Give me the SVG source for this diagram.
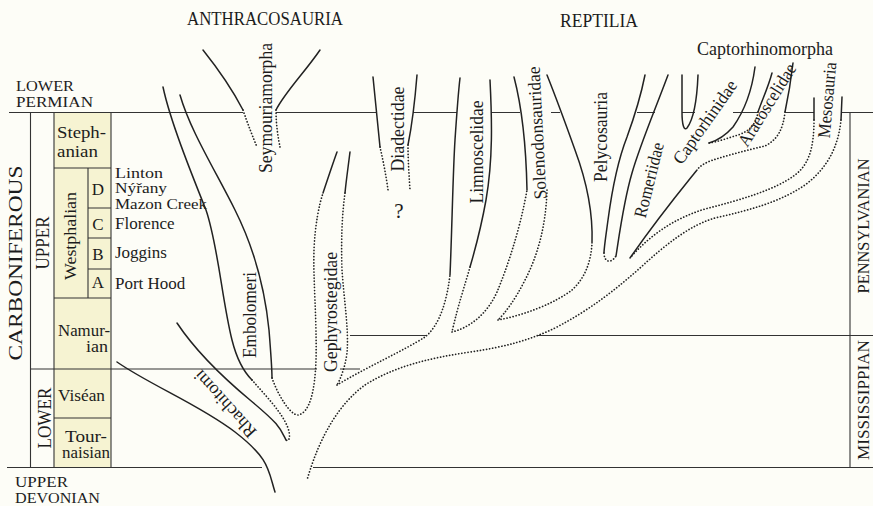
<svg xmlns="http://www.w3.org/2000/svg" width="873" height="506" viewBox="0 0 873 506">
<defs>
<style>
text{font-family:"Liberation Serif","Times New Roman",serif;font-size:17px;fill:#1c1c1c}
.v{text-anchor:middle;dominant-baseline:central}
.cap{font-size:18px}
.sm{font-size:16px}
.xs{font-size:15px}
.s{fill:none;stroke:#222;stroke-width:1.5;stroke-linecap:round}
.d{fill:none;stroke:#222;stroke-width:1.7;stroke-dasharray:0.1 3;stroke-linecap:round}
.g{stroke:#333;stroke-width:1.1;fill:none}
.cell{fill:#f6f3d2}
</style>
</defs>
<rect x="0" y="0" width="873" height="506" fill="#fdfdf7"/>

<g id="timescale">
<rect class="cell" x="54" y="112.5" width="57" height="355"/>
<g class="g">
<path d="M9,112.5H243 M276,112.5H376 M413,112.5H457 M491,112.5H520 M551,112.5H560 M637,112.5H655 M682,112.5H695 M733,112.5H758 M785,112.5H814 M842,112.5H873"/>
<path d="M7,467.5H262 M313,467.5H873"/>
<path d="M30.5,369H317 M340,369H360"/>
<path d="M350,335.5H427 M538,335.5H873"/>
<path d="M30.5,112.5V467.5 M54,112.5V467.5 M111,112.5V467.5 M88,168V298 M850,112.5V467.5"/>
<path d="M54,168H111 M88,208H111 M88,238H111 M88,269H111 M54,298H111 M54,418H111"/>
</g>
<text class="xs" x="16" y="91" textLength="58" lengthAdjust="spacingAndGlyphs">LOWER</text>
<text class="xs" x="16" y="107" textLength="77" lengthAdjust="spacingAndGlyphs">PERMIAN</text>
<text class="xs" x="15" y="487" textLength="53" lengthAdjust="spacingAndGlyphs">UPPER</text>
<text class="xs" x="15" y="503" textLength="85" lengthAdjust="spacingAndGlyphs">DEVONIAN</text>
<text class="v" transform="translate(15.5,263) rotate(-90)" style="font-size:19px" textLength="195" lengthAdjust="spacingAndGlyphs">CARBONIFEROUS</text>
<text class="v cap" transform="translate(43,243) rotate(-90)" textLength="53" lengthAdjust="spacingAndGlyphs">UPPER</text>
<text class="v cap" transform="translate(45,418) rotate(-90)" textLength="61" lengthAdjust="spacingAndGlyphs">LOWER</text>
<text class="v" transform="translate(70,236) rotate(-90)" textLength="88" lengthAdjust="spacingAndGlyphs">Westphalian</text>
<text class="sm" x="57" y="138" textLength="49" lengthAdjust="spacingAndGlyphs">Steph-</text>
<text class="sm" x="57" y="157" textLength="41" lengthAdjust="spacingAndGlyphs">anian</text>
<text x="98" y="195" text-anchor="middle">D</text>
<text x="98" y="230" text-anchor="middle">C</text>
<text x="98" y="260" text-anchor="middle">B</text>
<text x="98" y="288" text-anchor="middle">A</text>
<text class="sm" x="58" y="336" textLength="52" lengthAdjust="spacingAndGlyphs">Namur-</text>
<text class="sm" x="86" y="352" textLength="22" lengthAdjust="spacingAndGlyphs">ian</text>
<text x="58" y="401" textLength="47" lengthAdjust="spacingAndGlyphs">Viséan</text>
<text class="sm" x="65" y="442" textLength="42" lengthAdjust="spacingAndGlyphs">Tour-</text>
<text class="sm" x="62" y="458" textLength="48" lengthAdjust="spacingAndGlyphs">naisian</text>
<text class="xs" x="115" y="178" textLength="48" lengthAdjust="spacingAndGlyphs">Linton</text>
<text class="xs" x="115" y="193" textLength="52" lengthAdjust="spacingAndGlyphs">Nýřany</text>
<text class="xs" x="115" y="209" textLength="92" lengthAdjust="spacingAndGlyphs">Mazon Creek</text>
<text x="115" y="229">Florence</text>
<text x="115" y="258">Joggins</text>
<text x="115" y="289">Port Hood</text>
<text class="v" transform="translate(863,226) rotate(-90)" textLength="135" lengthAdjust="spacingAndGlyphs">PENNSYLVANIAN</text>
<text class="v" transform="translate(863,400) rotate(-90)" textLength="120" lengthAdjust="spacingAndGlyphs">MISSISSIPPIAN</text>
</g>

<g id="connectors">
<path class="s" d="M117,362 C150,385 200,405 235,432 S268,470 275,492"/>
<path class="s" d="M177,323 C195,350 220,375 250,400 S280,428 286,440"/>
<path class="d" d="M252,380 C265,395 282,412 288,428 C291,437 289,442 286,440"/>
<path class="s" d="M163,87 C170,120 190,170 206,210 C218,245 222,300 232,340 C237,360 244,372 252,380"/>
<path class="s" d="M180,95 C190,130 215,170 235,210 C255,250 265,290 269,330 C271,355 272,370 272,378"/>
<path class="d" d="M272,378 C278,395 290,415 298,415 C310,413 315,390 316,360 C317,320 313,280 314,250 C315,225 319,205 323,193"/>
<path class="s" d="M323,193 C328,178 333,163 337,152"/>
<path class="s" d="M350,152 C348,168 346,182 345,193"/>
<path class="d" d="M345,193 C342,215 341,240 342,270 C344,300 349,330 347,353 C345,368 340,380 337,385"/>
<path class="d" d="M337,385 C365,368 405,350 425,337 C440,325 447,300 450,275"/>
<path class="s" d="M450,275 C452,230 453,170 455,140 S458,95 460,78"/>
<path class="s" d="M490,80 C492,120 493,160 486,200 C481,228 475,250 470,267"/>
<path class="d" d="M470,267 C465,285 458,305 452,332"/>
<path class="d" d="M452,332 C472,327 488,312 497,292 C507,268 520,230 527,190"/>
<path class="s" d="M514,77 C520,100 526,140 527,190"/>
<path class="d" d="M547,190 C546,225 538,255 525,280 C515,300 505,313 498,320"/>
<path class="d" d="M498,320 C525,315 555,303 572,290 C585,278 591,262 592,243"/>
<path class="s" d="M592,243 C593,215 588,185 575,150 C565,122 555,95 547,75"/>
<path class="s" d="M645,75 C641,95 635,115 627,137 C618,160 612,190 608,220 C606,235 604,248 604,253"/>
<path class="d" d="M604,253 C604,261 610,265 616,256"/>
<path class="s" d="M616,256 C620,230 624,200 632,173 C640,145 655,110 668,75"/>
<path class="s" d="M682,75 L682,112 C682,125 684,131 687,128 C693,120 697,100 698,75"/>
<path class="s" d="M755,67 C752,90 745,110 733,127 C725,136 716,141 709,143"/>
<path class="s" d="M772,73 C768,88 762,100 758,112"/>
<path class="d" d="M758,112 C756,124 750,131 738,135 C728,138 717,142 709,143"/>
<path class="s" d="M793,63 C791,80 788,98 785,112"/>
<path class="d" d="M785,112 C783,130 777,140 765,146 C748,150 728,155 710,161 C703,164 699,167 697,170"/>
<path class="s" d="M697,170 C685,185 660,215 630,258"/>
<path class="s" d="M814,98 L814,120"/>
<path class="d" d="M814,120 C814,150 808,165 795,175 C775,190 740,200 705,209 C675,218 650,235 630,258"/>
<path class="s" d="M842,97 L841,120"/>
<path class="d" d="M841,120 C838,150 825,170 805,185 C780,202 750,210 715,218 C690,225 665,245 640,268 C615,290 590,310 555,328 C530,340 505,347 470,352 C430,358 395,366 365,385 C340,403 320,435 307,480"/>
<path class="s" d="M203,50 C215,65 230,85 243,110"/>
<path class="d" d="M243,110 C248,125 253,137 257,147"/>
<path class="s" d="M320,50 C305,72 285,92 276,110"/>
<path class="d" d="M276,110 C276,125 278,137 280,147"/>
<path class="s" d="M373,77 C375,95 377,115 380,147"/>
<path class="d" d="M380,147 C383,160 386,175 388,190"/>
<path class="s" d="M417,75 C415,100 412,125 408,145"/>
<path class="d" d="M408,145 C408,160 409,175 410,190"/>
</g>

<g id="anthracosauria"><text class="cap" x="265" y="25" text-anchor="middle" textLength="156" lengthAdjust="spacingAndGlyphs">ANTHRACOSAURIA</text></g>
<g id="reptilia"><text class="cap" x="599" y="27" text-anchor="middle" textLength="78" lengthAdjust="spacingAndGlyphs">REPTILIA</text></g>
<g id="captorhinomorpha"><text x="765" y="55" text-anchor="middle" style="font-size:18px" textLength="136" lengthAdjust="spacingAndGlyphs">Captorhinomorpha</text></g>
<g id="seymouriamorpha"><text class="v" transform="translate(266,108) rotate(-90)" style="font-size:18px" textLength="130" lengthAdjust="spacingAndGlyphs">Seymouriamorpha</text></g>
<g id="diadectidae"><text class="v" transform="translate(398,129) rotate(-90)" style="font-size:18px" textLength="85" lengthAdjust="spacingAndGlyphs">Diadectidae</text>
<text x="399" y="218" text-anchor="middle" style="font-size:21px">?</text></g>
<g id="limnoscelidae"><text class="v" transform="translate(477,152) rotate(-90)" style="font-size:18px" textLength="103" lengthAdjust="spacingAndGlyphs">Limnoscelidae</text></g>
<g id="solenodonsauridae"><text class="v" transform="translate(537,133) rotate(-93)" style="font-size:18px" textLength="133" lengthAdjust="spacingAndGlyphs">Solenodonsauridae</text></g>
<g id="pelycosauria"><text class="v" transform="translate(601,137) rotate(-90)" style="font-size:18px" textLength="90" lengthAdjust="spacingAndGlyphs">Pelycosauria</text></g>
<g id="romeriidae"><text class="v" transform="translate(649,180) rotate(-76)" style="font-size:18px" textLength="77" lengthAdjust="spacingAndGlyphs">Romeriidae</text></g>
<g id="captorhinidae"><text class="v" transform="translate(705,122) rotate(-55)" style="font-size:18px" textLength="98" lengthAdjust="spacingAndGlyphs">Captorhinidae</text></g>
<g id="araeoscelidae"><text class="v" transform="translate(767,105) rotate(-58)" style="font-size:18px" textLength="94" lengthAdjust="spacingAndGlyphs">Araeoscelidae</text></g>
<g id="mesosauria"><text class="v" transform="translate(827,100) rotate(-85)" style="font-size:18px" textLength="76" lengthAdjust="spacingAndGlyphs">Mesosauria</text></g>
<g id="embolomeri"><text class="v" transform="translate(250,315) rotate(-90)" style="font-size:18px" textLength="86" lengthAdjust="spacingAndGlyphs">Embolomeri</text></g>
<g id="gephyrostegidae"><text class="v" transform="translate(331,312) rotate(-90)" style="font-size:18px" textLength="120" lengthAdjust="spacingAndGlyphs">Gephyrostegidae</text></g>
<g id="rhachitomi"><text class="v" transform="translate(225,404) rotate(-132)" style="font-size:18px" textLength="84" lengthAdjust="spacingAndGlyphs">Rhachitomi</text></g>
</svg>
